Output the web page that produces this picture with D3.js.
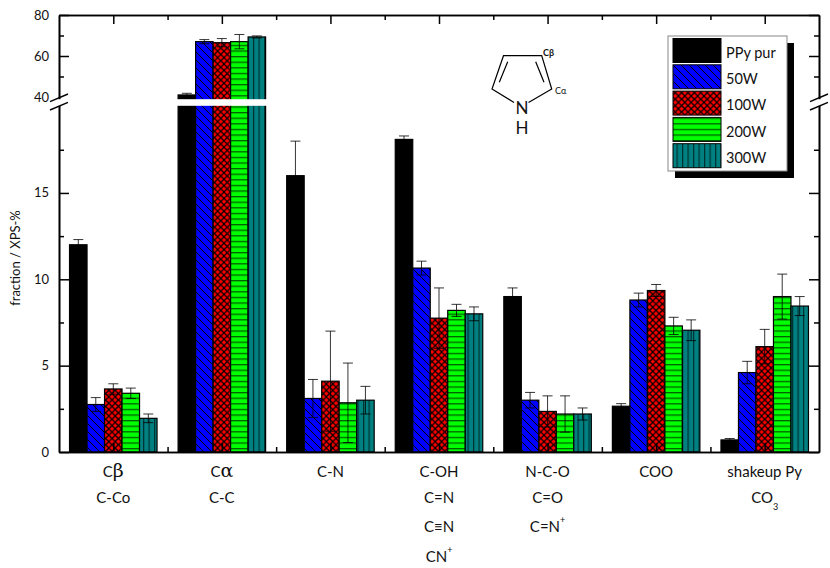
<!DOCTYPE html>
<html>
<head>
<meta charset="utf-8">
<script src="https://cdnjs.cloudflare.com/ajax/libs/d3/7.8.5/d3.min.js"></script>
<style>
  html, body { margin: 0; background: #fff; }
  svg text { font-family: Lato, "Open Sans", sans-serif; fill: #111; }
</style>
</head>
<body>
<div id="chart"></div>
<script>
var groups = ["Cb", "Ca", "CN", "COH", "NCO", "COO", "shakeup"];
var groupLabels = [
  ["C\u03B2", "C-Co"],
  ["C\u03B1", "C-C"],
  ["C-N"],
  ["C-OH", "C=N", "C\u2261N", "CN^+"],
  ["N-C-O", "C=O", "C=N^+"],
  ["COO"],
  ["shakeup Py", "CO_3"]
];
var seriesNames = ["PPy pur", "50W", "100W", "200W", "300W"];
var ppyPur = [12.0, 41.0, 16.0, 18.1, 9.0, 2.65, 0.7];
var w50 = [2.75, 67.0, 3.1, 10.65, 3.0, 8.8, 4.6];
var w100 = [3.65, 66.5, 4.1, 7.75, 2.35, 9.35, 6.1];
var w200 = [3.4, 67.0, 2.85, 8.2, 2.2, 7.3, 9.0];
var w300 = [1.95, 69.3, 3.0, 8.0, 2.2, 7.05, 8.45];
var ppyPurErr = [0.3, 0.8, 2.0, 0.2, 0.5, 0.15, 0.08];
var w50Err = [0.4, 1.0, 1.1, 0.4, 0.45, 0.4, 0.65];
var w100Err = [0.3, 2.0, 2.9, 1.75, 0.9, 0.35, 1.0];
var w200Err = [0.3, 3.5, 2.3, 0.35, 1.05, 0.5, 1.3];
var w300Err = [0.25, 0.5, 0.8, 0.4, 0.35, 0.6, 0.55];
var yMajor = [0, 5, 10, 15, 60, 80];
var yMinor = [2.5, 7.5, 12.5, 17.5, 50, 70];
var yLabels = [0, 5, 10, 15, 40, 60, 80];

var values = [ppyPur, w50, w100, w200, w300];
var errors = [ppyPurErr, w50Err, w100Err, w200Err, w300Err];
var patterns = ["solid", "back", "cross", "horiz", "vert"];
var fills = ["#000", "#0000ff", "#ff0000", "#00ff00", "#008080"];

var W = 830, H = 568;
var left = 59, right = 819, top_ = 15, bottom = 452;

var svg = d3.select("#chart").append("svg")
    .attr("width", W)
    .attr("height", H)
    .style("display", "block");

// hatch patterns
var defs = svg.append("defs");
function pattern(id, size, fill) {
  var p = defs.append("pattern")
      .attr("id", id)
      .attr("patternUnits", "userSpaceOnUse")
      .attr("width", size)
      .attr("height", size);
  p.append("rect").attr("width", size).attr("height", size).attr("fill", fill);
  return p;
}
pattern("back", 8, "#0000ff").selectAll("path")
    .data(["M-1,-1L9,9", "M-1,7L1,9", "M7,-1L9,1"])
  .enter().append("path")
    .attr("d", function(d) { return d; })
    .attr("stroke", "#000")
    .attr("stroke-width", 1);
pattern("cross", 6.4, "#ff0000").selectAll("path")
    .data(["M-1,-1L7.4,7.4", "M-1,7.4L7.4,-1", "M-1,5.4L1,7.4", "M5.4,-1L7.4,1", "M-1,1L1,-1", "M5.4,7.4L7.4,5.4"])
  .enter().append("path")
    .attr("d", function(d) { return d; })
    .attr("stroke", "#000")
    .attr("stroke-width", 1.15);
pattern("horiz", 5.6, "#00ff00").append("rect")
    .attr("y", 0).attr("width", 5.6).attr("height", 1.3).attr("fill", "#006000");
pattern("vert", 5.5, "#008080").append("rect")
    .attr("x", 0).attr("width", 1.2).attr("height", 5.5).attr("fill", "#003030");

function fillOf(i) {
  return i == 0 ? fills[0] : "url(#" + patterns[i] + ")";
}

// x: one unit per group
var x = d3.scaleLinear().domain([0.5, 7.5]).range([left, right]);
var barW = 17.5;
// y: piecewise, the stretch between 20 and 40 is the axis break
var y = d3.scaleLinear().domain([0, 20, 40, 80]).range([bottom, 106.6, 97, top_]);

// bars
var g = svg.selectAll(".series")
    .data(values)
  .enter().append("g")
    .attr("class", "series");

g.each(function(vals, s) {
  var sel = d3.select(this);
  var bx = function(i) { return x(i + 1) + (s - 2.5) * barW; };
  sel.selectAll("rect")
      .data(vals)
    .enter().append("rect")
      .attr("x", function(d, i) { return bx(i); })
      .attr("y", function(d) { return y(d); })
      .attr("width", barW)
      .attr("height", function(d) { return y(0) - y(d); })
      .attr("fill", fillOf(s))
      .attr("stroke", "#000")
      .attr("stroke-width", 1.2);
  // error bars
  sel.selectAll("path")
      .data(vals)
    .enter().append("path")
      .attr("d", function(d, i) {
        var e = errors[s][i], cx = bx(i) + barW / 2, t = y(d + e), b = y(d - e);
        return "M" + (cx - 5) + "," + t + "H" + (cx + 5) + "M" + cx + "," + t + "V" + b + "M" + (cx - 5) + "," + b + "H" + (cx + 5);
      })
      .attr("fill", "none")
      .attr("stroke", "#000")
      .attr("stroke-width", 0.8);
});

// frame and ticks
function frame(sel) {
  sel.selectAll("text").remove();
  sel.selectAll(".domain").attr("stroke", "#000").attr("stroke-width", 1.6);
  sel.selectAll("line").attr("stroke", "#000").attr("stroke-width", 1.5);
}
var xMajorTicks = d3.range(1, 8);
var xMinorTicks = d3.range(1.5, 7.5, 1);
function xAxes(gen, yPos, sign) {
  svg.append("g").attr("transform", "translate(0," + yPos + ")")
      .call(gen(x).tickValues(xMajorTicks).tickSize(sign * 9).tickSizeOuter(0)).call(frame);
  svg.append("g").attr("transform", "translate(0," + yPos + ")")
      .call(gen(x).tickValues(xMinorTicks).tickSize(sign * 5).tickSizeOuter(0)).call(frame);
}
xAxes(d3.axisBottom, top_, 1);
xAxes(d3.axisTop, bottom, 1);
function yAxes(gen, xPos) {
  svg.append("g").attr("transform", "translate(" + xPos + ",0)")
      .call(gen(y).tickValues(yMajor).tickSize(10).tickSizeOuter(0)).call(frame);
  svg.append("g").attr("transform", "translate(" + xPos + ",0)")
      .call(gen(y).tickValues(yMinor).tickSize(5).tickSizeOuter(0)).call(frame);
}
yAxes(d3.axisRight, left);
yAxes(d3.axisLeft, right);

// axis break
svg.append("rect")
    .attr("x", left - 2).attr("y", 99.2)
    .attr("width", right - left + 4).attr("height", 6.6)
    .attr("fill", "#fff");
[left - 9, right - 9].forEach(function(x0) {
  [101.7, 110].forEach(function(y0) {
    svg.append("line")
        .attr("x1", x0).attr("y1", y0)
        .attr("x2", x0 + 18).attr("y2", y0 - 7.7)
        .attr("stroke", "#000").attr("stroke-width", 1.4);
  });
});

// y labels
svg.selectAll(".ylab")
    .data(yLabels)
  .enter().append("text")
    .attr("class", "ylab")
    .attr("x", 49)
    .attr("y", function(d) { return y(d) + 4.5; })
    .attr("text-anchor", "end")
    .attr("font-size", 13)
    .style("font-family", "'Liberation Sans Narrow', Lato, sans-serif")
    .text(function(d) { return d; });

svg.append("text")
    .attr("transform", "translate(20,258) rotate(-90)")
    .attr("text-anchor", "middle")
    .attr("font-size", 13)
    .text("fraction / XPS-%");

// category labels, ^ and _ mark a raised or lowered last part
var lineY = [477, 503, 532, 562];
groupLabels.forEach(function(lines, i) {
  lines.forEach(function(txt, j) {
    var m = txt.match(/^(.*)([\^_])(.)$/);
    var greek = txt.match(/^(.)([\u03B1\u03B2])$/);
    var t = svg.append("text")
        .attr("x", x(i + 1))
        .attr("y", lineY[j])
        .attr("text-anchor", "middle")
        .attr("font-size", 15);
    t.append("tspan").text(greek ? greek[1] : m ? m[1] : txt);
    if (greek) {
      t.append("tspan")
          .attr("font-size", 19)
          .style("font-family", "'DejaVu Serif', serif")
          .text(greek[2]);
    }
    if (m) {
      t.append("tspan")
          .attr("dy", m[2] == "^" ? -9 : 7)
          .attr("font-size", 9)
          .text(m[3]);
    }
  });
});

// legend
var lg = svg.append("g");
lg.append("rect").attr("x", 675).attr("y", 43).attr("width", 119).attr("height", 135).attr("fill", "#000");
lg.append("rect").attr("x", 668).attr("y", 36).attr("width", 119).attr("height", 135)
    .attr("fill", "#fff").attr("stroke", "#888").attr("stroke-width", 1);
var swatchY = d3.scaleLinear().domain([0, 5]).range([38.5, 170]);
seriesNames.forEach(function(name, i) {
  lg.append("rect")
      .attr("x", 673).attr("y", swatchY(i))
      .attr("width", 48).attr("height", 24)
      .attr("fill", fillOf(i))
      .attr("stroke", "#000")
      .attr("stroke-width", 1);
  lg.append("text")
      .attr("x", 726).attr("y", swatchY(i) + 19.2)
      .attr("font-size", 14.5)
      .text(name);
});

// pyrrole sketch
var mol = svg.append("g").attr("fill", "none").attr("stroke", "#000").attr("stroke-width", 1.2);
mol.append("path").attr("d", "M514,102.5L492,89L503.5,55.7H541.7L551.7,89L528.5,102.5");
mol.append("path").attr("d", "M507.7,61.7L499.3,82.3M535.7,61.7L544,82.3");
svg.append("text").attr("x", 522).attr("y", 114).attr("text-anchor", "middle").attr("font-size", 17).text("N");
svg.append("text").attr("x", 522).attr("y", 134).attr("text-anchor", "middle").attr("font-size", 17).text("H");
svg.append("text").attr("x", 543).attr("y", 56).attr("font-size", 9).attr("font-weight", "bold").text("C\u03B2");
svg.append("text").attr("x", 555).attr("y", 94).attr("font-size", 9).text("C\u03B1");
</script>
</body>
</html>
